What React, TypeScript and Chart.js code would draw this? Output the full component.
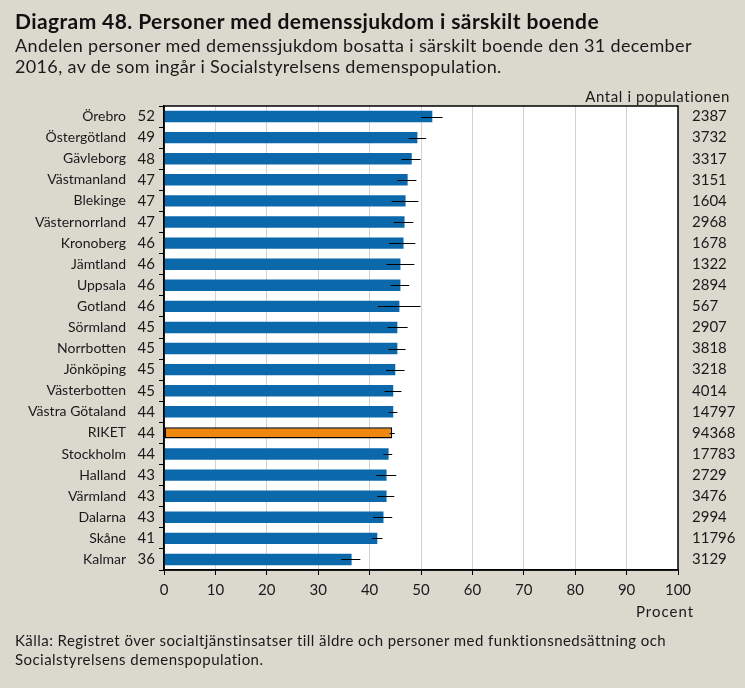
import React, { useEffect, useRef } from "react";
import { Chart, registerables } from "chart.js";

Chart.register(...registerables);

const regions = [
  "Örebro", "Östergötland", "Gävleborg", "Västmanland", "Blekinge", "Västernorrland",
  "Kronoberg", "Jämtland", "Uppsala", "Gotland", "Sörmland", "Norrbotten", "Jönköping",
  "Västerbotten", "Västra Götaland", "RIKET", "Stockholm", "Halland", "Värmland",
  "Dalarna", "Skåne", "Kalmar",
];
const shares = [52.2, 49.3, 48.2, 47.4, 47.0, 46.8, 46.6, 46.0, 46.0, 45.8, 45.4, 45.4, 45.0, 44.6, 44.6, 44.4, 43.7, 43.3, 43.3, 42.7, 41.5, 36.5];
const shareLabels = ["52", "49", "48", "47", "47", "47", "46", "46", "46", "46", "45", "45", "45", "45", "44", "44", "44", "43", "43", "43", "41", "36"];
const ciLow = [50.0, 47.6, 46.2, 45.4, 44.3, 44.7, 43.8, 43.3, 44.1, 41.6, 43.5, 43.7, 43.2, 42.9, 43.7, 43.9, 42.7, 41.3, 41.5, 40.7, 40.5, 34.5];
const ciHigh = [54.2, 51.0, 49.9, 49.1, 49.5, 48.5, 48.9, 48.7, 47.7, 49.9, 47.4, 47.0, 46.8, 46.2, 45.4, 44.9, 44.4, 45.2, 44.8, 44.4, 42.5, 38.2];
const population = ["2387", "3732", "3317", "3151", "1604", "2968", "1678", "1322", "2894", "567", "2907", "3818", "3218", "4014", "14797", "94368", "17783", "2729", "3476", "2994", "11796", "3129"];

const BG = "#dbd8ce";
const BLUE = "#0b69ab";
const ORANGE = "#ef870f";
const FONT = "Lato, 'Noto Sans', sans-serif";

const chartDecor = {
  id: "chartDecor",
  beforeDraw(chart: any) {
    const { ctx, chartArea } = chart;
    ctx.save();
    ctx.fillStyle = "#ffffff";
    ctx.fillRect(chartArea.left, chartArea.top, chartArea.right - chartArea.left, chartArea.bottom - chartArea.top);
    ctx.restore();
  },
  afterDatasetsDraw(chart: any) {
    const { ctx, chartArea } = chart;
    const meta = chart.getDatasetMeta(0);
    const xs = chart.scales.x;
    ctx.save();
    ctx.strokeStyle = "#000";
    ctx.lineWidth = 1;
    meta.data.forEach((bar: any, i: number) => {
      const y = Math.round(bar.y) + 0.5;
      ctx.beginPath();
      ctx.moveTo(xs.getPixelForValue(ciLow[i]), y);
      ctx.lineTo(xs.getPixelForValue(ciHigh[i]), y);
      ctx.stroke();
    });
    ctx.lineWidth = 1.5;
    ctx.strokeRect(chartArea.left, chartArea.top, chartArea.right - chartArea.left, chartArea.bottom - chartArea.top);
    ctx.restore();
  },
};

export default function App() {
  const ref = useRef<HTMLCanvasElement | null>(null);

  useEffect(() => {
    if (!ref.current) return;
    const tickFont = { family: FONT, size: 15 };
    const nameFont = { family: FONT, size: 14 };
    const chart = new Chart(ref.current, {
      type: "bar",
      data: {
        labels: shareLabels,
        datasets: [
          {
            data: shares,
            backgroundColor: regions.map((r) => (r === "RIKET" ? ORANGE : BLUE)),
            borderColor: regions.map((r) => (r === "RIKET" ? "#000" : "#0a5a92")),
            borderWidth: regions.map((r) => (r === "RIKET" ? 1.5 : 0)),
            borderSkipped: false,
            barPercentage: 0.54,
            categoryPercentage: 1,
            yAxisID: "y",
          },
        ],
      },
      options: {
        indexAxis: "y",
        responsive: false,
        animation: false,
        devicePixelRatio: 1,
        layout: { padding: { top: 106, left: 0, right: 0, bottom: 0 } },
        plugins: { legend: { display: false }, tooltip: { enabled: false }, title: { display: false } },
        scales: {
          x: {
            type: "linear",
            min: 0,
            max: 100,
            ticks: { stepSize: 10, color: "#1a1a1a", font: tickFont, padding: 6 },
            grid: { color: "#d2d2d2", tickColor: "#000", tickLength: 5 },
            border: { color: "#000", width: 1.5 },
            afterFit: (s: any) => { s.height = 118; },
          },
          y: {
            type: "category",
            position: "left",
            labels: shareLabels,
            offset: true,
            weight: 0,
            ticks: { color: "#1a1a1a", font: tickFont, padding: 4, autoSkip: false },
            grid: { offset: true, drawOnChartArea: false, tickColor: "#000", tickLength: 5 },
            border: { color: "#000", width: 1.5 },
            afterFit: (s: any) => { s.width = 32; },
          },
          yNames: {
            type: "category",
            position: "left",
            labels: regions,
            offset: true,
            weight: 1,
            ticks: { color: "#1a1a1a", font: nameFont, padding: 6, autoSkip: false },
            grid: { display: false, drawTicks: false },
            border: { display: false },
            afterFit: (s: any) => { s.width = 132; },
          },
          yPop: {
            type: "category",
            position: "right",
            labels: population,
            offset: true,
            ticks: { color: "#1a1a1a", font: tickFont, padding: 14, autoSkip: false },
            grid: { display: false, drawTicks: false },
            border: { display: false },
            afterFit: (s: any) => { s.width = 67; },
          },
        },
      } as any,
      plugins: [chartDecor],
    });
    return () => chart.destroy();
  }, []);

  const txt: React.CSSProperties = { position: "absolute", fontFamily: FONT, color: "#1a1a1a", whiteSpace: "nowrap", margin: 0 };

  return (
    <div style={{ position: "absolute", left: 0, top: 0, width: 745, height: 688, background: BG, overflow: "hidden" }}>
      <canvas ref={ref} width={745} height={688} style={{ position: "absolute", left: 0, top: 0, width: 745, height: 688 }} />
      <div style={{ ...txt, left: 15, top: 8, fontSize: 21, fontWeight: 700, letterSpacing: 0.4, color: "#111" }}>
        Diagram 48. Personer med demenssjukdom i särskilt boende
      </div>
      <div style={{ ...txt, left: 15, top: 35, fontSize: 18, lineHeight: "21px", letterSpacing: 0.35 }}>
        Andelen personer med demenssjukdom bosatta i särskilt boende den 31 december
        <br />
        2016, av de som ingår i Socialstyrelsens demenspopulation.
      </div>
      <div style={{ ...txt, right: 15, top: 87, fontSize: 15, letterSpacing: 0.6 }}>Antal i populationen</div>
      <div style={{ ...txt, left: 636, top: 602, fontSize: 15, letterSpacing: 1 }}>Procent</div>
      <div style={{ ...txt, left: 15, top: 631, fontSize: 15, lineHeight: "19px", letterSpacing: 0.45 }}>
        Källa: Registret över socialtjänstinsatser till äldre och personer med funktionsnedsättning och
        <br />
        Socialstyrelsens demenspopulation.
      </div>
    </div>
  );
}
